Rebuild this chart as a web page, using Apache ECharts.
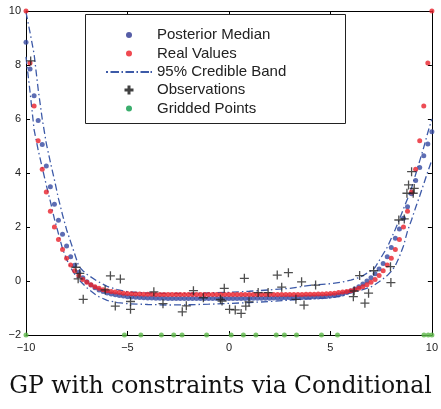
<!DOCTYPE html>
<html>
<head>
<meta charset="utf-8">
<script src="https://cdn.jsdelivr.net/npm/echarts@6/dist/echarts.min.js"></script>
<style>
  html, body { margin: 0; padding: 0; background: #ffffff; }
  #chart { width: 441px; height: 409px; }
</style>
</head>
<body>
<div id="chart"></div>
<script>
// Evaluation grid (step 0.2)
const xGrid = [-10,-9.8,-9.6,-9.4,-9.2,-9,-8.8,-8.6,-8.4,-8.2,-8,-7.8,-7.6,-7.4,-7.2,-7,-6.8,-6.6,-6.4,-6.2,-6,-5.8,-5.6,-5.4,-5.2,-5,-4.8,-4.6,-4.4,-4.2,-4,-3.8,-3.6,-3.4,-3.2,-3,-2.8,-2.6,-2.4,-2.2,-2,-1.8,-1.6,-1.4,-1.2,-1,-0.8,-0.6,-0.4,-0.2,0,0.2,0.4,0.6,0.8,1,1.2,1.4,1.6,1.8,2,2.2,2.4,2.6,2.8,3,3.2,3.4,3.6,3.8,4,4.2,4.4,4.6,4.8,5,5.2,5.4,5.6,5.8,6,6.2,6.4,6.6,6.8,7,7.2,7.4,7.6,7.8,8,8.2,8.4,8.6,8.8,9,9.2,9.4,9.6,9.8,10];

// True function values on the grid
const realValues = [
  10.00,8.07,6.48,5.19,4.14,3.30,2.58,2.00,1.54,1.17,
  0.84,0.59,0.38,0.20,0.06,-0.05,-0.14,-0.21,-0.27,-0.32,
  -0.36,-0.39,-0.41,-0.43,-0.45,-0.46,-0.47,-0.48,-0.48,-0.49,
  -0.49,-0.49,-0.50,-0.50,-0.50,-0.50,-0.50,-0.50,-0.50,-0.50,
  -0.50,-0.50,-0.50,-0.50,-0.50,-0.50,-0.50,-0.50,-0.50,-0.50,
  -0.50,
  -0.50,-0.50,-0.50,-0.50,-0.50,-0.50,-0.50,-0.50,-0.50,-0.50,
  -0.50,-0.50,-0.50,-0.50,-0.50,-0.50,-0.50,-0.50,-0.49,-0.49,
  -0.49,-0.48,-0.48,-0.47,-0.46,-0.45,-0.43,-0.41,-0.39,-0.36,
  -0.32,-0.27,-0.21,-0.14,-0.05,0.06,0.20,0.38,0.59,0.84,
  1.17,1.54,2.00,2.58,3.30,4.14,5.19,6.48,8.07,10.00
];

// Posterior median on the grid
const medianValues = [
  8.84,7.85,6.86,5.94,5.06,4.26,3.49,2.84,2.25,1.73,
  1.30,0.90,0.58,0.32,0.12,-0.03,-0.15,-0.25,-0.33,-0.39,
  -0.44,-0.48,-0.51,-0.54,-0.56,-0.58,-0.59,-0.60,-0.61,-0.62,
  -0.63,-0.63,-0.64,-0.64,-0.64,-0.65,-0.65,-0.65,-0.65,-0.65,
  -0.65,-0.65,-0.65,-0.65,-0.65,-0.65,-0.65,-0.65,-0.65,-0.65,
  -0.65,
  -0.65,-0.65,-0.65,-0.65,-0.65,-0.64,-0.64,-0.64,-0.64,-0.64,
  -0.63,-0.63,-0.63,-0.62,-0.62,-0.62,-0.61,-0.61,-0.60,-0.60,
  -0.59,-0.59,-0.58,-0.57,-0.56,-0.54,-0.52,-0.48,-0.43,-0.37,
  -0.30,-0.21,-0.11,0.00,0.12,0.27,0.44,0.65,0.90,1.24,
  1.58,1.93,2.32,2.75,3.23,3.72,4.20,4.64,5.07,5.53
];

// 95% credible band
const bandX = [-10,-9.8,-9.6,-9.4,-9.2,-9,-8.8,-8.6,-8.4,-8.2,-8,-7.8,-7.6,-7.4,-7.2,-7,-6.5,-6,-5.5,-5,-4,-3,-2,-1,0,1,2,3,4,5,5.5,6,6.5,7,7.2,7.4,7.6,7.8,8,8.2,8.4,8.6,8.8,9,9.2,9.4,9.6,9.8,10];
const bandUpper = [
  9.95,9.2,8.4,7.1,6.0,5.1,4.4,3.75,3.05,2.45,
  1.9,1.45,1.0,0.55,0.38,0.25,
  0.0,-0.2,-0.32,-0.4,
  -0.45,-0.46,-0.46,-0.44,-0.42,-0.38,-0.33,-0.27,-0.16,
  -0.1,-0.05,0.03,0.15,0.38,
  0.5,0.75,1.0,1.25,1.58,1.92,2.28,2.67,3.05,3.45,3.95,4.45,4.95,5.5,6.0
];
const bandLower = [
  8.3,7.0,5.6,4.85,4.2,3.55,2.95,2.3,1.75,1.2,
  0.8,0.5,0.25,0.05,-0.1,-0.25,
  -0.55,-0.72,-0.8,-0.84,
  -0.87,-0.89,-0.88,-0.86,-0.83,-0.8,-0.76,-0.71,-0.66,
  -0.62,-0.56,-0.44,-0.34,-0.22,
  -0.13,-0.03,0.08,0.2,0.36,0.57,0.9,1.3,1.85,2.27,2.72,3.15,3.6,4.05,4.48
];

// Noisy observations
const obsX = [-9.77,-7.54,-7.35,-7.43,-7.18,-6.1,-5.84,-5.35,-5.6,-4.85,-4.85,-3.7,-3.25,-2.3,-2.1,-1.75,-1.26,-0.42,-0.34,-0.23,0.03,0.31,0.6,0.76,0.83,0.99,1.44,1.93,2.38,2.6,2.93,3.3,3.58,3.7,4.27,6.17,6.13,6.44,6.7,6.88,7.13,7.96,7.98,8.37,8.64,8.77,8.85,9.0,9.08,9.13];
const obsY = [8.15,0.51,0.28,0.08,-0.68,-0.33,0.19,0.07,-0.93,-0.76,-1.05,-0.4,-0.84,-1.14,-0.92,-0.36,-0.62,-0.68,-0.74,-0.27,-1.05,-1.07,-1.2,0.1,-0.93,-0.77,-0.43,-0.43,0.22,-0.23,0.31,-0.68,-0.03,-0.89,-0.15,-0.37,-0.58,0.2,-0.82,-0.45,0.38,0.53,-0.06,2.26,2.3,3.25,3.56,4.05,3.25,3.43];

// Constraint locations
const griddedX = [-10,-5.15,-4.34,-3.33,-2.72,-2.31,-1.1,0.11,0.71,1.33,2.33,2.73,3.33,4.56,5.35,9.61,9.82,10];
const griddedY = [-2,-2,-2,-2,-2,-2,-2,-2,-2,-2,-2,-2,-2,-2,-2,-2,-2,-2];

const xTicks = { min: -10, max: 10, interval: 5 };
const yTicks = { min: -2, max: 10, interval: 2 };

const pairs = (xs, ys) => xs.map((x, i) => [x, ys[i]]);
const minusSign = v => String(v).replace('-', '\u2212');

const BLUE = '#3549a0';
const RED = '#e8212b';
const BAND = '#3d5aa8';
const GREEN = '#5cb848';
const INK = '#222222';

const thinPlus = 'path://M0,3.85H3.85V0H5.15V3.85H9V5.15H5.15V9H3.85V5.15H0Z';
const boldPlus = 'path://M0,3H3V0H6V3H9V6H6V9H3V6H0Z';
const dashDotKey = 'path://M0,0H2V2H0Z M4.5,0H13V2H4.5Z M15.5,0H17V2H15.5Z M19.5,0H28V2H19.5Z M30.5,0H32V2H30.5Z M34.5,0H43V2H34.5Z M44.5,0H46V2H44.5Z';
const bandDash = [7, 3, 1.5, 3];

const sansFont = 'Liberation Sans, Arial, Helvetica, sans-serif';

function frameAxis(pos, ticks, labels) {
  return {
    type: 'value',
    position: pos,
    min: ticks.min, max: ticks.max, interval: ticks.interval,
    axisLine: { show: true, onZero: false, lineStyle: { color: '#000', width: 1 } },
    axisTick: { show: true, inside: true, length: 4, lineStyle: { color: '#000', width: 1 } },
    axisLabel: labels ? {
      show: true, color: INK, fontSize: 11, fontFamily: sansFont,
      margin: pos === 'bottom' ? 7 : 5, formatter: minusSign
    } : { show: false },
    splitLine: { show: false }
  };
}

// Legend rows: key centred at x = 129, labels start at x = 157
const legendRows = [27, 45.5, 64, 82, 100.5];
function legendEntry(row, item, keyW, keyH) {
  const keyLeft = 129 - keyW / 2;
  return {
    orient: 'vertical',
    left: keyLeft,
    top: legendRows[row],
    padding: 0,
    z: 6,
    itemWidth: keyW,
    itemHeight: keyH,
    symbolKeepAspect: false,
    selectedMode: false,
    textStyle: {
      fontSize: 15, fontFamily: sansFont, color: INK, lineHeight: 16,
      padding: [0, 0, 0, 157 - (keyLeft + keyW + 5)]
    },
    data: [item]
  };
}

const chart = echarts.init(document.getElementById('chart'), null, { renderer: 'canvas' });

chart.setOption({
  animation: false,
  backgroundColor: '#ffffff',
  title: {
    text: 'GP with constraints via Conditional',
    left: 'center',
    top: 375,
    padding: 0,
    textStyle: { fontFamily: 'DejaVu Serif', fontSize: 23.5, fontWeight: 'normal', color: '#111' }
  },
  grid: { left: 26, right: 3, top: 11, bottom: 74 },
  xAxis: [frameAxis('bottom', xTicks, true), frameAxis('top', xTicks, false)],
  yAxis: [frameAxis('left', yTicks, true), frameAxis('right', yTicks, false)],
  graphic: [{
    type: 'rect',
    z: 5,
    shape: { x: 85.5, y: 14.5, width: 260, height: 109 },
    style: { fill: '#ffffff', stroke: INK, lineWidth: 1 }
  }],
  legend: [
    legendEntry(0, { name: 'Posterior Median', icon: 'circle', itemStyle: { color: '#2c3590' } }, 6, 6),
    legendEntry(1, { name: 'Real Values', icon: 'circle', itemStyle: { color: '#ec1c24' } }, 6, 6),
    legendEntry(2, { name: '95% Credible Band', icon: dashDotKey, itemStyle: { color: BAND } }, 46, 2),
    legendEntry(3, { name: 'Observations', icon: boldPlus, itemStyle: { color: '#111' } }, 9, 9),
    legendEntry(4, { name: 'Gridded Points', icon: 'circle', itemStyle: { color: '#0a9a48' } }, 6, 6)
  ],
  series: [
    {
      name: '95% Credible Band', type: 'line', data: pairs(bandX, bandUpper),
      symbol: 'none', lineStyle: { color: BAND, width: 1.3, type: bandDash }, itemStyle: { color: BAND }, z: 2
    },
    {
      name: '95% Credible Band', type: 'line', data: pairs(bandX, bandLower),
      symbol: 'none', lineStyle: { color: BAND, width: 1.3, type: bandDash }, itemStyle: { color: BAND }, z: 2
    },
    {
      name: 'Posterior Median', type: 'scatter', data: pairs(xGrid, medianValues),
      symbol: 'circle', symbolSize: 5, itemStyle: { color: BLUE }, clip: false, z: 3
    },
    {
      name: 'Real Values', type: 'scatter', data: pairs(xGrid, realValues),
      symbol: 'circle', symbolSize: 5, itemStyle: { color: RED }, clip: false, z: 3
    },
    {
      name: 'Observations', type: 'scatter', data: pairs(obsX, obsY),
      symbol: thinPlus, symbolSize: 9, itemStyle: { color: INK }, clip: false, z: 4
    },
    {
      name: 'Gridded Points', type: 'scatter', data: pairs(griddedX, griddedY),
      symbol: 'circle', symbolSize: 5, itemStyle: { color: GREEN }, clip: false, z: 4
    }
  ]
});
</script>
</body>
</html>
